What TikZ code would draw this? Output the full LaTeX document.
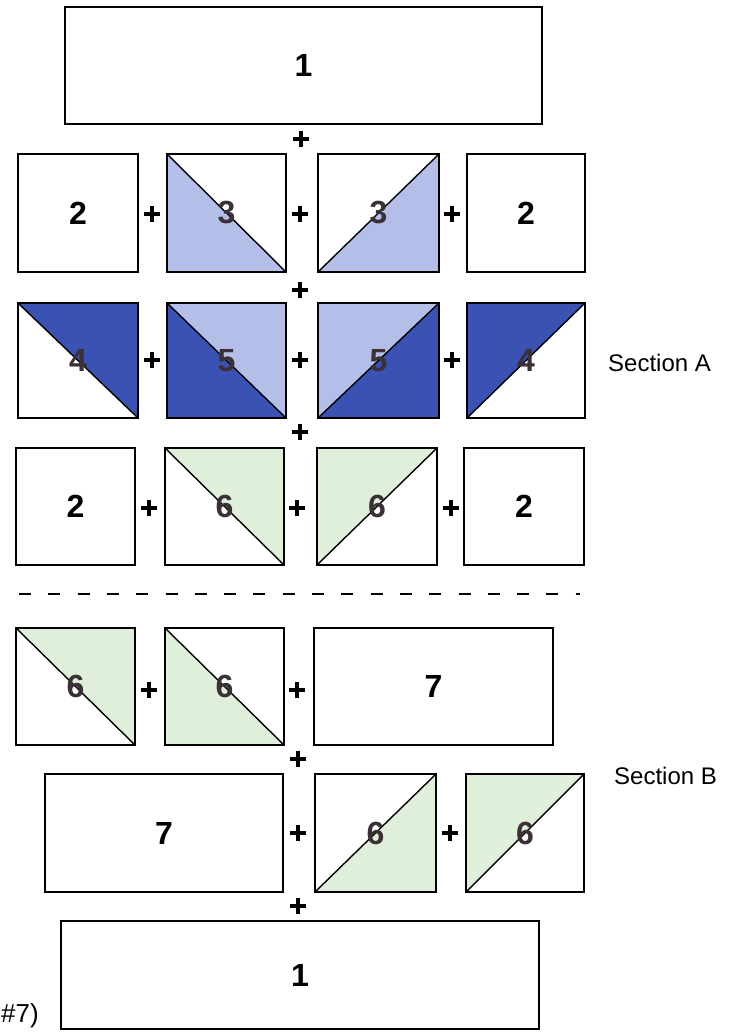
\documentclass[tikz,border=0pt]{standalone}
\usepackage{fontspec}
\setmainfont{Liberation Sans}
\definecolor{lblue}{HTML}{B3BFE9}
\definecolor{dblue}{HTML}{3A52B4}
\definecolor{lgreen}{HTML}{DFEFDA}
\definecolor{dig}{HTML}{3A3036}
\newcommand\digfont{\fontsize{32}{32}\selectfont\bfseries}
\newcommand\secfont{\fontsize{24}{24}\selectfont}
\tikzset{
  blk/.style 2 args={draw=black, line width=2.4pt, inner sep=0pt, font=\digfont,
    minimum width=#1, minimum height=#2},
  halfA/.style 2 args={text=dig, path picture={
    \fill[#1] (path picture bounding box.north west) -- (path picture bounding box.north east) -- (path picture bounding box.south east) -- cycle;
    \fill[#2] (path picture bounding box.north west) -- (path picture bounding box.south west) -- (path picture bounding box.south east) -- cycle;
    \draw[line width=1.4pt] (path picture bounding box.north west) -- (path picture bounding box.south east);}},
  halfB/.style 2 args={text=dig, path picture={
    \fill[#1] (path picture bounding box.north west) -- (path picture bounding box.north east) -- (path picture bounding box.south west) -- cycle;
    \fill[#2] (path picture bounding box.north east) -- (path picture bounding box.south east) -- (path picture bounding box.south west) -- cycle;
    \draw[line width=1.4pt] (path picture bounding box.south west) -- (path picture bounding box.north east);}},
  plus/.style={minimum size=16pt, inner sep=0pt, path picture={
    \draw[line width=3.6pt] (path picture bounding box.north) -- (path picture bounding box.south)
      (path picture bounding box.west) -- (path picture bounding box.east);}},
  sec/.style={font=\secfont, inner sep=0pt}
}
\begin{document}
\begin{tikzpicture}[x=1pt, y=-1pt]
\useasboundingbox (0,0) rectangle (730,1032);
% top
\node[blk={477}{117}] (top) at (303.5,65.5) {1};
\node[plus] (p0) at (301,139) {};
% row 2
\node[blk={120}{118}] (r2a) at (78,213) {2};
\node[blk={119}{118}, halfA={white}{lblue}] (r2b) at (226.5,213) {3};
\node[blk={121}{118}, halfB={white}{lblue}] (r2c) at (378.5,213) {3};
\node[blk={118}{118}] (r2d) at (526,213) {2};
\node[plus] (p2a) at (152,214) {};
\node[plus] (p2b) at (300,214) {};
\node[plus] (p2c) at (452,214) {};
\node[plus] (p23) at (300,290) {};
% row 3
\node[blk={120}{115}, halfA={dblue}{white}] (r3a) at (78,360.5) {4};
\node[blk={119}{115}, halfA={lblue}{dblue}] (r3b) at (226.5,360.5) {5};
\node[blk={121}{115}, halfB={lblue}{dblue}] (r3c) at (378.5,360.5) {5};
\node[blk={118}{115}, halfB={dblue}{white}] (r3d) at (526,360.5) {4};
\node[plus] (p3a) at (152,360) {};
\node[plus] (p3b) at (300,360) {};
\node[plus] (p3c) at (452,360) {};
\node[sec, anchor=west] (secA) at (608,363) {Section A};
\node[plus] (p34) at (300,432) {};
% row 4
\node[blk={119}{117}] (r4a) at (75.5,506.5) {2};
\node[blk={119}{117}, halfA={lgreen}{white}] (r4b) at (224.5,506.5) {6};
\node[blk={120}{117}, halfB={lgreen}{white}] (r4c) at (377,506.5) {6};
\node[blk={120}{117}] (r4d) at (524,506.5) {2};
\node[plus] (p4a) at (149,508) {};
\node[plus] (p4b) at (297,508) {};
\node[plus] (p4c) at (451,508) {};
% dashed divider
\coordinate (dl) at (19,594);
\coordinate (dr) at (580,594);
\draw[dash pattern=on 12pt off 17.3pt, line width=1.8pt] (dl) -- (dr);
% row 5
\node[blk={119}{117}, halfA={lgreen}{white}] (r5a) at (75.5,686.5) {6};
\node[blk={119}{117}, halfA={white}{lgreen}] (r5b) at (224.5,686.5) {6};
\node[blk={239}{117}] (r5c) at (433.5,686.5) {7};
\node[plus] (p5a) at (149,690) {};
\node[plus] (p5b) at (297,690) {};
\node[plus] (p56) at (298,759) {};
% row 6
\node[blk={238}{118}] (r6a) at (164,833) {7};
\node[blk={121}{118}, halfB={white}{lgreen}] (r6b) at (375.5,833) {6};
\node[blk={118}{118}, halfB={lgreen}{white}] (r6c) at (525,833) {6};
\node[plus] (p6a) at (298,833) {};
\node[plus] (p6b) at (450,833) {};
\node[sec, anchor=west] (secB) at (614,776) {Section B};
\node[plus] (p67) at (298,906) {};
% bottom
\node[blk={478}{108}] (bot) at (300,975) {1};
\node[font=\fontsize{26}{26}\selectfont, inner sep=0pt, anchor=west] (note) at (1,1016) {\#7)};
\end{tikzpicture}
\end{document}
